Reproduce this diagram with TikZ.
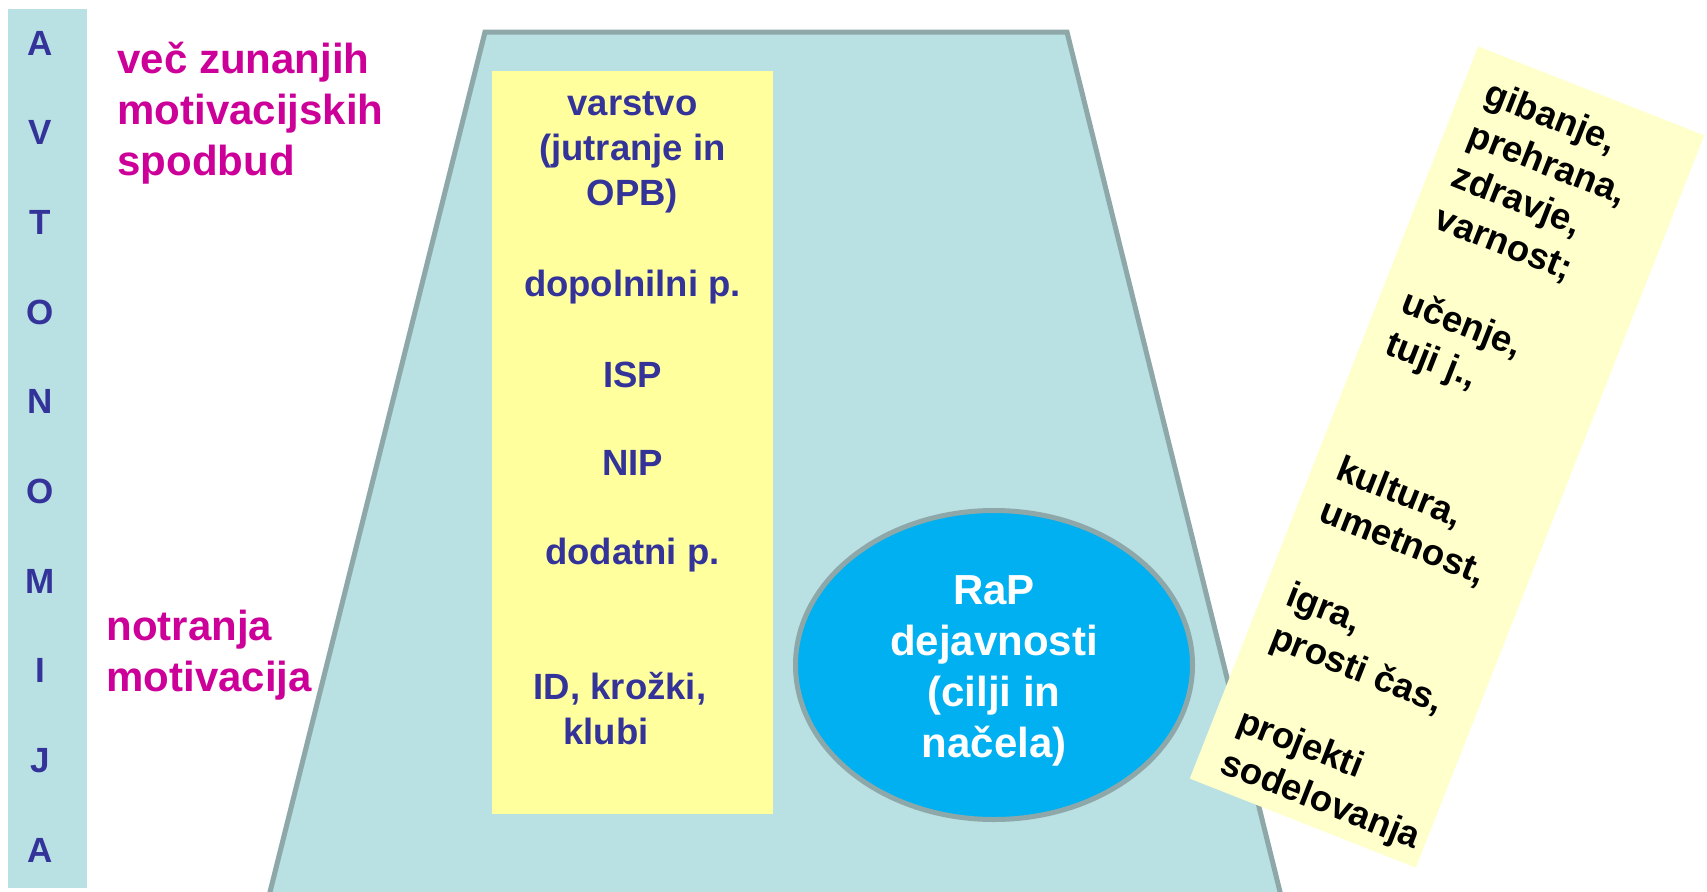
\documentclass[tikz,border=0pt]{standalone}
\usepackage{fontspec}
\setmainfont{Liberation Sans}
\usetikzlibrary{shapes.geometric}

\definecolor{lagoon}{HTML}{B9E0E3}
\definecolor{lagoonline}{HTML}{8EA8AA}
\definecolor{lemon}{HTML}{FFFF9E}
\definecolor{cream}{HTML}{FFFFCC}
\definecolor{sky}{HTML}{00B0F0}
\definecolor{plum}{HTML}{CC0099}
\definecolor{ink}{HTML}{333399}

\begin{document}
\begin{tikzpicture}[x=0.5pt, y=-0.5pt]
        \tikzstyle{every node}=[inner sep=0pt]
        \tikzstyle{letter}=[text=ink, anchor=base, font=\fontsize{17.5}{21}\selectfont\bfseries]
        \tikzstyle{motive}=[text=plum, align=left, anchor=north west, font=\fontsize{21}{25.5}\selectfont\bfseries]
        \tikzstyle{item}=[text=ink, align=center, font=\fontsize{18.25}{22.4}\selectfont\bfseries]
        \tikzstyle{topic}=[text=black, align=left, anchor=north west, font=\fontsize{18.25}{22.5}\selectfont\bfseries]
        \useasboundingbox (0,0) rectangle (1707,891);
        \clip (0,0) rectangle (1707,891);
        \fill[lagoon] (8,9) rectangle (87,888);
        \foreach \letter [count=\i from 0] in {A,V,T,O,N,O,M,I,J,A}
            \node[letter] (avt\i) at (40,55+89.7*\i) {\letter};
        \node[motive] (external) at (117,42) {več zunanjih\\motivacijskih\\spodbud};
        \node[motive] (internal) at (106,610) {notranja\\motivacija};
        \draw[lagoonline, fill=lagoon, line width=2.5pt] (485,32) -- (1067,32) -- (1287,920) -- (263,920) -- cycle;
        \fill[lemon] (492,71) rectangle (773,814);
        \node[item, anchor=north] (varstvo) at (632.5,91.5) {varstvo\\(jutranje in\\OPB)};
        \foreach \name/\y/\txt in {dopolnilni/296/dopolnilni p., isp/387/ISP, nip/475/NIP, dodatni/564/dodatni p.}
            \node[item, anchor=base] (\name) at (632.5,\y) {\txt};
        \node[item, anchor=base] (id) at (620,699) {ID, krožki,};
        \node[item, anchor=base] (klubi) at (606,744) {klubi};
        \node[ellipse, draw=lagoonline, line width=2.5pt, fill=sky, minimum width=198.5pt, minimum height=154.5pt] (rap) at (994,665) {};
        \node[text=white, align=center, anchor=north, font=\fontsize{21}{25.5}\selectfont\bfseries] (raptext) at (994,575) {RaP\\dejavnosti\\(cilji in\\načela)};
        \begin{scope}[shift={(1447,457)}, rotate=-21.5, transform shape]
            \fill[cream] (-121.5,-393.5) rectangle (121.5,393.5);
            \node[topic] (topics) at (-97.5,-370) {gibanje,\\prehrana,\\zdravje,\\varnost;\\ \\učenje,\\tuji j.,\\ \\ \\kultura,\\umetnost,\\ \\igra,\\prosti čas,\\ \\projekti\\sodelovanja};
        \end{scope}
\end{tikzpicture}
\end{document}
